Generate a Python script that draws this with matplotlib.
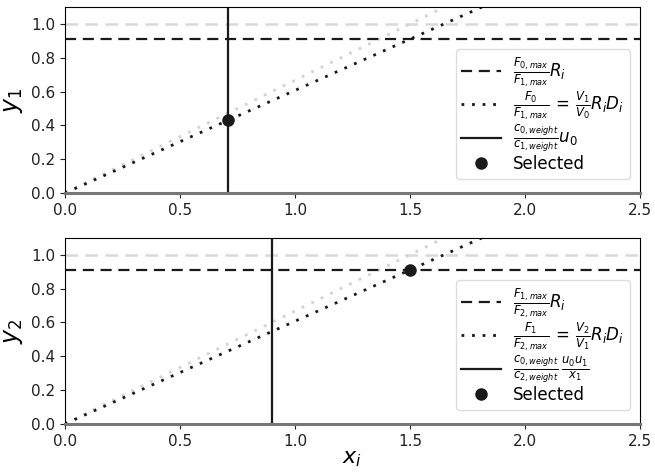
import matplotlib
matplotlib.use("Agg")
import matplotlib.pyplot as plt

# shared line data
x_ends = [0.0, 2.5]
y_ref = 1.0          # light grey reference level
y_limit = 0.91       # dashed black level
y_dot_black = [0.0, 1.517]
y_dot_grey = [0.0, 1.667]

# per-panel data
v_lines = [0.71, 0.90]
selected_x = [0.71, 1.50]
selected_y = [0.43, 0.91]
y_labels = [r"$y_1$", r"$y_2$"]
labels_dashed = [r"$\frac{F_{0,max}}{F_{1,max}}R_i$",
                 r"$\frac{F_{1,max}}{F_{2,max}}R_i$"]
labels_dotted = [r"$\frac{F_0}{F_{1,max}}\,=\,\frac{V_1}{V_0}R_iD_i$",
                 r"$\frac{F_1}{F_{2,max}}\,=\,\frac{V_2}{V_1}R_iD_i$"]
labels_solid = [r"$\frac{c_{0,weight}}{c_{1,weight}}u_0$",
                r"$\frac{c_{0,weight}}{c_{2,weight}}\,\frac{u_0u_1}{x_1}$"]

fig = plt.figure(figsize=(6.55, 4.72), dpi=100)
axes = [fig.add_axes([0.099, 0.591, 0.878, 0.394]),
        fig.add_axes([0.099, 0.102, 0.878, 0.394])]

dots = (0, (1, 2.8))
for i, ax in enumerate(axes):
    ax.axhline(y_ref, color="#d9d9d9", ls=(0, (5, 3)), lw=1.8, zorder=1)
    ax.plot(x_ends, y_dot_grey, color="#d2d2d2", ls=dots, lw=2.0, zorder=1)
    ax.axhline(y_limit, color="#1a1a1a", ls=(0, (5, 3)), lw=1.6,
               label=labels_dashed[i], zorder=2)
    ax.plot(x_ends, y_dot_black, color="#1a1a1a", ls=dots, lw=2.0,
            label=labels_dotted[i], zorder=2)
    ax.axvline(v_lines[i], color="#1a1a1a", lw=1.6,
               label=labels_solid[i], zorder=2)
    ax.plot(selected_x[i], selected_y[i], "o", color="#1a1a1a", ms=8,
            ls="none", label="Selected", zorder=3)
    ax.axhline(0, color="#777777", lw=2.2, zorder=4, clip_on=False)

    ax.set_xlim(0, 2.5)
    ax.set_ylim(0, 1.1)
    ax.set_xticks([0.0, 0.5, 1.0, 1.5, 2.0, 2.5])
    ax.set_yticks([0.0, 0.2, 0.4, 0.6, 0.8, 1.0])
    ax.tick_params(labelsize=11, colors="#222222")
    ax.set_ylabel(y_labels[i], fontsize=17, labelpad=4)
    ax.legend(loc="lower right", fontsize=12, handlelength=2.4,
              handletextpad=0.7, labelspacing=0.05, borderpad=0.35,
              framealpha=1, edgecolor="#dddddd",
              bbox_to_anchor=(0.997, 0.03))

axes[1].set_xlabel(r"$x_i$", fontsize=16, labelpad=0)

fig.savefig("out.png", dpi=100)
